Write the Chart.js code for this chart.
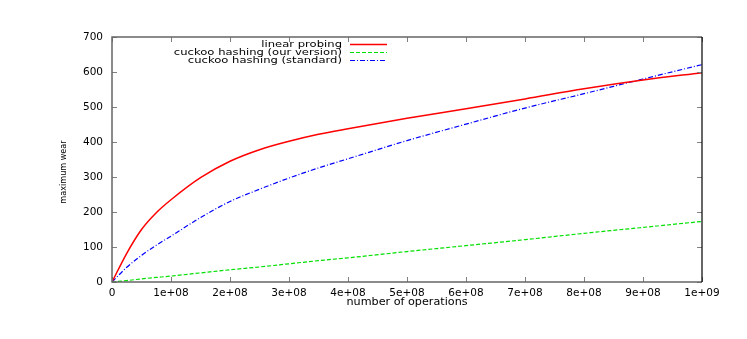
<!DOCTYPE html>
<html>
<head>
<meta charset="utf-8">
<script src="https://cdn.jsdelivr.net/npm/chart.js@4/dist/chart.umd.min.js"></script>
<style>
  html, body { margin: 0; padding: 0; background: #fff; }
  #wrap { width: 747px; height: 339px; }
</style>
</head>
<body>
<div id="wrap"><canvas id="wearChart" width="747" height="339"></canvas></div>
<script>
// number of operations (x) shared by all series
const opsX = [0, 0.25e8, 0.5e8, 0.75e8, 1e8, 1.5e8, 2e8, 2.5e8, 3e8, 3.5e8, 4e8, 5e8, 6e8, 7e8, 8e8, 9e8, 1e9];
const linearProbing = [0, 82, 150, 198, 235, 298, 345, 378, 402, 422, 438, 468, 495, 523, 552, 577, 598];
const cuckooOurs    = [0, 4, 9, 13, 17, 26, 35, 43, 52, 61, 69, 87, 104, 121, 139, 156, 173];
const cuckooStd     = [0, 42, 76, 105, 131, 184, 230, 265, 297, 326, 352, 404, 451, 497, 538, 580, 621];

const xTickLabels = ['0', '1e+08', '2e+08', '3e+08', '4e+08', '5e+08', '6e+08', '7e+08', '8e+08', '9e+08', '1e+09'];
const yTickLabels = ['0', '100', '200', '300', '400', '500', '600', '700'];

const FONT = 'DejaVu Sans, sans-serif';

function toPoints(ys) {
    return ys.map((v, i) => ({ x: opsX[i], y: v }));
}

// gnuplot style frame, inward ticks on all four sides, y title and legend
const gnuplotBits = {
    id: 'gnuplotBits',
    afterDraw(chart) {
        const { ctx, chartArea: a, scales: { x, y } } = chart;
        ctx.save();
        ctx.strokeStyle = '#808080';
        ctx.lineWidth = 1;
        ctx.beginPath();
        x.ticks.forEach(t => {
            const px = Math.round(x.getPixelForValue(t.value)) + 0.5;
            ctx.moveTo(px, a.bottom); ctx.lineTo(px, a.bottom - 5);
            ctx.moveTo(px, a.top); ctx.lineTo(px, a.top + 5);
        });
        y.ticks.forEach(t => {
            const py = Math.round(y.getPixelForValue(t.value)) + 0.5;
            ctx.moveTo(a.left, py); ctx.lineTo(a.left + 5, py);
            ctx.moveTo(a.right, py); ctx.lineTo(a.right - 5, py);
        });
        ctx.stroke();

        ctx.strokeStyle = '#666';
        ctx.lineWidth = 1.5;
        ctx.beginPath();
        ctx.moveTo(a.right, a.top);
        ctx.lineTo(a.left, a.top);
        ctx.lineTo(a.left, a.bottom);
        ctx.lineTo(a.right, a.bottom);
        ctx.stroke();
        ctx.strokeStyle = '#000';
        ctx.lineWidth = 1.2;
        ctx.beginPath();
        ctx.moveTo(a.right, a.top);
        ctx.lineTo(a.right, a.bottom);
        ctx.stroke();

        // y title, narrow font like the original
        ctx.fillStyle = '#000';
        ctx.font = '9px "Liberation Sans Narrow", "DejaVu Sans Condensed", sans-serif';
        ctx.textAlign = 'center';
        ctx.textBaseline = 'middle';
        ctx.translate(64, 172);
        ctx.rotate(-Math.PI / 2);
        ctx.fillText('maximum wear', 0, 0);
        ctx.restore();

        // legend: right aligned text, sample line after it
        chart.data.datasets.forEach((ds, i) => {
            const yy = 44.5 + i * 8;
            ctx.save();
            ctx.fillStyle = '#000';
            ctx.font = '11.6px ' + FONT;
            ctx.textAlign = 'right';
            ctx.textBaseline = 'middle';
            ctx.translate(342, yy);
            ctx.scale(1, 0.75);
            ctx.fillText(ds.label, 0, 0);
            ctx.restore();

            ctx.save();
            ctx.strokeStyle = ds.borderColor;
            ctx.lineWidth = ds.borderWidth;
            ctx.setLineDash(ds.borderDash || []);
            ctx.beginPath();
            ctx.moveTo(350, yy);
            ctx.lineTo(387, yy);
            ctx.stroke();
            ctx.restore();
        });
    }
};

new Chart(document.getElementById('wearChart'), {
    type: 'line',
    data: {
        datasets: [
            {
                label: 'linear probing',
                data: toPoints(linearProbing),
                borderColor: '#ff0000',
                borderWidth: 1.5
            },
            {
                label: 'cuckoo hashing (our version)',
                data: toPoints(cuckooOurs),
                borderColor: '#00e000',
                borderWidth: 1.2,
                borderDash: [4, 2]
            },
            {
                label: 'cuckoo hashing (standard)',
                data: toPoints(cuckooStd),
                borderColor: '#0000ff',
                borderWidth: 1.2,
                borderDash: [5, 2, 1, 2]
            }
        ]
    },
    options: {
        responsive: false,
        animation: false,
        layout: { padding: { left: 0, right: 45, top: 37, bottom: 0 } },
        elements: {
            point: { radius: 0 },
            line: { cubicInterpolationMode: 'monotone', fill: false }
        },
        plugins: {
            legend: { display: false },
            tooltip: { enabled: false }
        },
        scales: {
            x: {
                type: 'linear',
                min: 0,
                max: 1e9,
                grid: { display: false, drawTicks: false, tickLength: 0 },
                border: { display: false },
                ticks: {
                    stepSize: 1e8,
                    autoSkip: false,
                    maxRotation: 0,
                    padding: 5,
                    color: '#000',
                    font: { family: FONT, size: 10.5 },
                    callback: (v, i) => xTickLabels[i]
                },
                title: {
                    display: true,
                    text: 'number of operations',
                    color: '#000',
                    font: { family: FONT, size: 11.2 },
                    padding: { top: 0, bottom: 30 }
                },
                afterFit: s => { s.height = 57; }
            },
            y: {
                min: 0,
                max: 700,
                grid: { display: false, drawTicks: false, tickLength: 0 },
                border: { display: false },
                ticks: {
                    stepSize: 100,
                    padding: 9,
                    color: '#000',
                    font: { family: FONT, size: 10.5 },
                    callback: (v, i) => yTickLabels[i]
                },
                afterFit: s => { s.width = 112; }
            }
        }
    },
    plugins: [gnuplotBits]
});
</script>
</body>
</html>
